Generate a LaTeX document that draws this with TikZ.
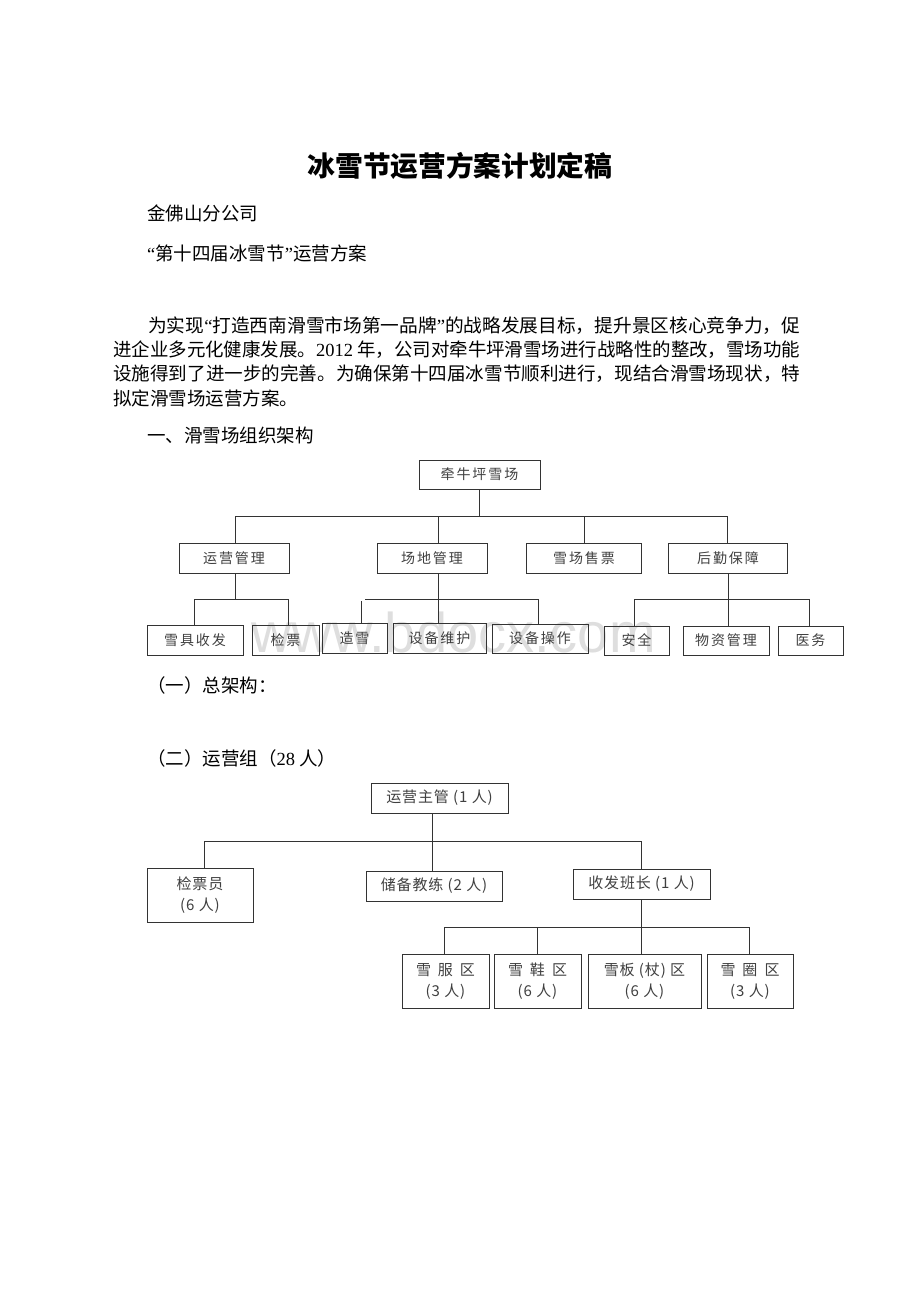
\documentclass[tikz,border=0pt]{standalone}
\usepackage{fontspec}
\usepackage{graphicx}
\setmainfont{Liberation Serif}
\newfontfamily\cjk{Noto Sans CJK SC}
\newfontfamily\cjkA[LetterSpace=14]{Noto Sans CJK SC}
\newfontfamily\cjkB[LetterSpace=6]{Noto Sans CJK SC}
\newfontfamily\wmfont{Liberation Sans}
\newcommand\bodyline[2]{\resizebox{#1}{\height}{#2}}
\newcommand\oqt{{\rmfamily “}}
\newcommand\cqt{{\rmfamily ”}}
\begin{document}
\begin{tikzpicture}[x=1pt,y=-1pt,
  box/.style={draw=black!80, line width=0.9pt, inner sep=0pt, text=black!75},
  boxA/.style={box, font=\cjkA\fontsize{14}{17}\selectfont},
  boxB/.style={box, font=\cjkB\fontsize{15}{21}\selectfont, align=center},
  conn/.style={draw=black!80, line width=0.8pt},
  txt/.style={anchor=west, inner sep=0pt, font=\cjk\fontsize{18.5}{22}\selectfont}]
\fill[white] (0,0) rectangle (920,1302);
\useasboundingbox (0,0) rectangle (920,1302);

% header text
\node[inner sep=0pt, font=\cjk\bfseries\fontsize{27.7}{30}\selectfont] (title) at (460,166) {冰雪节运营方案计划定稿};
\node[txt] (sub1) at (147,213) {金佛山分公司};
\node[txt] (sub2) at (147,253) {\oqt 第十四届冰雪节\cqt 运营方案};
\node[txt] (p1) at (148,326) {\bodyline{652pt}{为实现\oqt 打造西南滑雪市场第一品牌\cqt 的战略发展目标，提升景区核心竞争力，促}};
\node[txt] (p2) at (113,350) {\bodyline{687pt}{进企业多元化健康发展。{\rmfamily 2012} 年，公司对牵牛坪滑雪场进行战略性的整改，雪场功能}};
\node[txt] (p3) at (113,374) {\bodyline{687pt}{设施得到了进一步的完善。为确保第十四届冰雪节顺利进行，现结合滑雪场现状，特}};
\node[txt] (p4) at (113,398) {拟定滑雪场运营方案。};
\node[txt] (h1) at (147,435) {一、滑雪场组织架构};
\node[txt] (h2) at (147,685) {（一）总架构：};
\node[txt] (h3) at (147,758) {（二）运营组（{\rmfamily 28} 人）};

% watermark
\node[anchor=base west, inner sep=0pt, font=\wmfont\fontsize{56}{56}\selectfont, text=black!13] (wm) at (251,652) {www.bdocx.com};

% chart 1
\node[boxA, minimum width=121pt, minimum height=29pt] (top) at (479.5,474.5) {牵牛坪雪场};
\node[boxA, minimum width=110pt, minimum height=30pt] (yy) at (234,558) {运营管理};
\node[boxA, minimum width=110pt, minimum height=30pt] (cd) at (432,558) {场地管理};
\node[boxA, minimum width=115pt, minimum height=30pt] (sp) at (584,558) {雪场售票};
\node[boxA, minimum width=119pt, minimum height=30pt] (hq) at (728,558) {后勤保障};
\node[boxA, minimum width=96pt, minimum height=30pt] (xj) at (195,640) {雪具收发};
\node[boxA, minimum width=67pt, minimum height=30pt] (jp) at (285.5,640) {检票};
\node[boxA, minimum width=65pt, minimum height=30pt] (zx) at (354.5,638) {造雪};
\node[boxA, minimum width=93pt, minimum height=30pt] (wh) at (439.5,638) {设备维护};
\node[boxA, minimum width=96pt, minimum height=29pt] (cz) at (540,638.5) {设备操作};
\node[boxA, minimum width=65pt, minimum height=29pt] (aq) at (636.5,640.5) {安全};
\node[boxA, minimum width=86pt, minimum height=29pt] (wz) at (726,640.5) {物资管理};
\node[boxA, minimum width=65pt, minimum height=29pt] (yw) at (810.5,640.5) {医务};

\coordinate (b1) at (480,516);
\coordinate (b2) at (0,599);
\coordinate (b2b) at (0,601);
\coordinate (dyy) at ([xshift=1pt]yy.north);
\coordinate (dyys) at ([xshift=1pt]yy.south);
\coordinate (dhq) at ([xshift=-1pt]hq.north);
\coordinate (dcd) at ([xshift=6pt]cd.north);
\coordinate (dcds) at ([xshift=6pt]cd.south);
\coordinate (dxj) at ([xshift=-1pt]xj.north);
\coordinate (djp) at ([xshift=2.5pt]jp.north);
\coordinate (dzx) at ([xshift=6.5pt]zx.north);
\coordinate (dzxh) at ([xshift=10.5pt]zx.north);
\coordinate (dcz) at ([xshift=-2pt]cz.north);
\coordinate (daq) at ([xshift=-2.5pt]aq.north);
\coordinate (dyw) at ([xshift=-1.5pt]yw.north);

\draw[conn] (top.south) -- (top.south |- b1);
\draw[conn] (dyy) |- (dhq |- b1) -- (dhq);
\draw[conn] (dcd) -- (dcd |- b1);
\draw[conn] (sp.north) -- (sp.north |- b1);
\draw[conn] (dyys) -- (dyys |- b2);
\draw[conn] (dxj) |- (djp |- b2) -- (djp);
\draw[conn] (dcds) -- (dcds |- wh.north);
\draw[conn] (dzx) -- (dzx |- b2b);
\draw[conn] (dzxh |- b2) -- (dcz |- b2) -- (dcz);
\draw[conn] (hq.south) -- (hq.south |- wz.north);
\draw[conn] (daq) |- (dyw |- b2) -- (dyw);

% chart 2
\node[boxB, minimum width=137pt, minimum height=30pt] (zg) at (439.5,798) {运营主管 (1 人)};
\node[boxB, minimum width=106pt, minimum height=54pt] (jpy) at (200,895) {检票员\\(6 人)};
\node[boxB, minimum width=136pt, minimum height=30pt] (cb) at (434,886) {储备教练 (2 人)};
\node[boxB, minimum width=137pt, minimum height=30pt] (sf) at (641.5,884) {收发班长 (1 人)};
\node[boxB, minimum width=87pt, minimum height=54pt] (xf) at (445.5,981) {雪\hspace{7pt}服\hspace{7pt}区\\(3 人)};
\node[boxB, minimum width=87pt, minimum height=54pt] (xx) at (537.5,981) {雪\hspace{7pt}鞋\hspace{7pt}区\\(6 人)};
\node[boxB, minimum width=113pt, minimum height=54pt] (xb) at (644.5,981) {雪板 (杖) 区\\(6 人)};
\node[boxB, minimum width=86pt, minimum height=54pt] (xq) at (750,981) {雪\hspace{7pt}圈\hspace{7pt}区\\(3 人)};

\coordinate (b3) at (0,841);
\coordinate (b4) at (0,927);
\coordinate (dzg) at ([xshift=-7.5pt]zg.south);
\coordinate (djpy) at ([xshift=4pt]jpy.north);
\coordinate (dxf) at ([xshift=-1.5pt]xf.north);
\coordinate (dxq) at ([xshift=-1pt]xq.north);

\draw[conn] (dzg) -- (dzg |- cb.north);
\draw[conn] (djpy) |- (sf.north |- b3) -- (sf.north);
\draw[conn] (sf.south) -- (sf.south |- xb.north);
\draw[conn] (dxf) |- (dxq |- b4) -- (dxq);
\draw[conn] (xx.north) -- (xx.north |- b4);
\end{tikzpicture}
\end{document}
